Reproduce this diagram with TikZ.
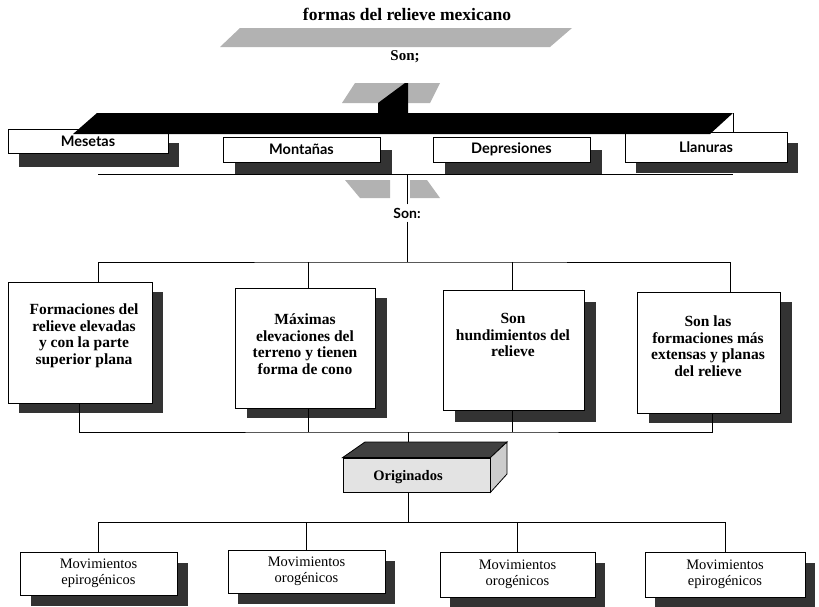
\documentclass[tikz,border=0pt]{standalone}
\usepackage{fontspec}
\setmainfont{Liberation Serif}
\newfontfamily\latofont{Lato}
\pgfdeclarelayer{bg}
\pgfsetlayers{bg,main}
\newcommand\boxshadow[3]{%
  \begin{pgfonlayer}{bg}
    \fill[shadowfill] ([shift={(#2,#3)}]#1.north west) rectangle ([shift={(#2,#3)}]#1.south east);
  \end{pgfonlayer}}
\tikzset{
  box/.style={draw, line width=0.9pt, fill=white, inner sep=0pt},
  shadowfill/.style={fill=black!80},
  speck/.style={fill=gray!60},
  wire/.style={line width=0.8pt, draw=black},
  rowone/.style={box, font=\latofont\bfseries\fontsize{14.5}{15.5}\selectfont},
  rowtwo/.style={align=center, font=\bfseries\fontsize{15.5}{16.5}\selectfont, inner sep=0pt},
  rowthree/.style={box, align=center, font=\fontsize{14.5}{15.5}\selectfont},
}
\begin{document}
\begin{tikzpicture}[x=1pt, y=-1pt]
\useasboundingbox (0,0) rectangle (819,606);

% title
\node[font=\bfseries\fontsize{17.5}{19}\selectfont] (title) at (407,14) {formas del relieve mexicano};
\fill[speck] (240,28) -- (572,28) -- (550,47) -- (220,47) -- cycle;
\node[font=\bfseries\fontsize{15}{16}\selectfont] (son1) at (405,57) {Son;};
\fill[speck] (355,83) -- (440,83) -- (430,103) -- (342,103) -- cycle;

% row one boxes
\node[rowone, minimum width=160pt, minimum height=24pt] (mes) at (88,141) {Mesetas};
\node[rowone, minimum width=157pt, minimum height=25pt] (mon) at (301.5,149.5) {Montañas};
\node[rowone, minimum width=157pt, minimum height=25pt] (dep) at (511.5,149.5) {Depresiones};
\node[rowone, minimum width=162pt, minimum height=30pt] (lla) at (706,147) {Llanuras};
\boxshadow{mes}{11}{14}
\boxshadow{mon}{12}{13}
\boxshadow{dep}{12}{13}
\boxshadow{lla}{11}{11}

% black bar and its stem
\coordinate (barR) at (733,113);
\fill[black] (97,113) -- (barR) -- (710,134) -- (73,134) -- cycle;
\fill[black] (378,113) -- (378,103) -- (405,83) -- (408,83) -- (408,113) -- cycle;
\draw[wire] (barR) -- (barR |- lla.north);

% line under row one
\coordinate (lowL) at (98,174);
\coordinate (lowR) at (733,174);
\begin{pgfonlayer}{bg}
\draw[wire] (lowL) -- (lowR);
\end{pgfonlayer}

% small shapes and Son:
\fill[speck] (345,180) -- (390,180) -- (390,198) -- (360,198) -- cycle;
\fill[speck] (410,180) -- (427,180) -- (440,198) -- (410,198) -- cycle;
\node[font=\latofont\bfseries\fontsize{14}{15}\selectfont] (son2) at (407,213) {Son:};
\draw[wire] (son2.north -| 407,0) -- (407,174);

% row two boxes
\node[box, minimum width=144pt, minimum height=121pt] (b1) at (80,342.5) {};
\node[box, minimum width=140pt, minimum height=120pt] (b2) at (305,348) {};
\node[box, minimum width=141pt, minimum height=120pt] (b3) at (513.5,350) {};
\node[box, minimum width=143pt, minimum height=121pt] (b4) at (708.5,352.5) {};
\boxshadow{b1}{11}{10}
\boxshadow{b2}{12}{10}
\boxshadow{b3}{12}{12}
\boxshadow{b4}{12}{10}
\node[rowtwo] (t1) at (84,336) {Formaciones del\\relieve elevadas\\y con la parte\\superior plana};
\node[rowtwo] (t2) at (305,344) {Máximas\\elevaciones del\\terreno y tienen\\forma de cono};
\node[rowtwo] (t3) at (513,335) {Son\\hundimientos del\\relieve};
\node[rowtwo] (t4) at (708,346) {Son las\\formaciones más\\extensas y planas\\del relieve};

% upper bus of row two
\coordinate (busA) at (407,262);
\draw[wire] (son2.south -| busA) -- (busA);
\draw[wire] ([xshift=18pt]b1.north) |- (busA) -| ([xshift=21.5pt]b4.north);
\draw[wire] ([xshift=3pt]b2.north) -- ([xshift=3pt]b2.north |- busA);
\draw[wire] ([xshift=-1.5pt]b3.north) -- ([xshift=-1.5pt]b3.north |- busA);

% Originados block
\node[draw, line width=0.8pt, fill=gray!22, minimum width=147pt, minimum height=34pt, inner sep=0pt] (orig) at (416.5,475) {};
\fill[black!75, draw=black, line width=0.8pt] (orig.north west) -- (365,442) -- (507,442) -- (orig.north east) -- cycle;
\fill[gray!40, draw=black, line width=0.8pt] (orig.north east) -- (507,442) -- (507,474) -- (orig.south east) -- cycle;
\node[font=\bfseries\fontsize{14.5}{15.5}\selectfont] (origtxt) at (408,477) {Originados};

% lower bus of row two
\coordinate (busB) at (408,432);
\draw[wire] ([xshift=-1pt]b1.south) |- (busB) -| ([xshift=3.5pt]b4.south);
\draw[wire] ([xshift=3pt]b2.south) -- ([xshift=3pt]b2.south |- busB);
\draw[wire] ([xshift=-1.5pt]b3.south) -- ([xshift=-1.5pt]b3.south |- busB);
\coordinate (origtop) at (408,442);
\draw[wire] (busB) -- (origtop);

% row three
\node[rowthree, minimum width=157pt, minimum height=43pt] (c1) at (98.5,573.5) {Movimientos\\epirogénicos};
\node[rowthree, minimum width=157pt, minimum height=43pt] (c2) at (306.5,571.5) {Movimientos\\orogénicos};
\node[rowthree, minimum width=155pt, minimum height=45pt] (c3) at (517.5,574.5) {Movimientos\\orogénicos};
\node[rowthree, minimum width=160pt, minimum height=45pt] (c4) at (725,574.5) {Movimientos\\epirogénicos};
\boxshadow{c1}{11}{11}
\boxshadow{c2}{10}{11}
\boxshadow{c3}{10}{11}
\boxshadow{c4}{10}{11}

\coordinate (busC) at (408,522);
\draw[wire] (origtxt.south -| busC) ++(0,6) -- (busC);
\draw[wire] (c1.north) |- (busC) -| (c4.north);
\draw[wire] (c2.north) -- (c2.north |- busC);
\draw[wire] (c3.north) -- (c3.north |- busC);
\end{tikzpicture}
\end{document}
